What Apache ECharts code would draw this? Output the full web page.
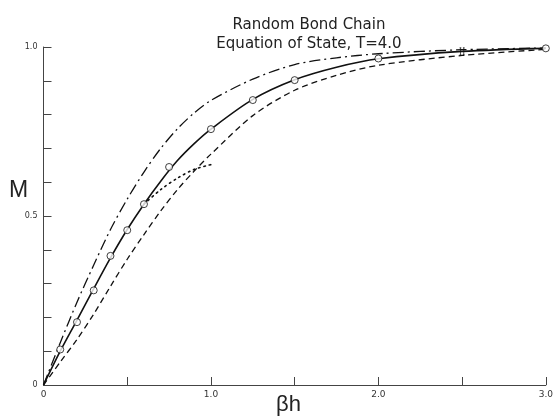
<!DOCTYPE html>
<html>
<head>
<meta charset="utf-8">
<script src="https://cdn.jsdelivr.net/npm/echarts@6/dist/echarts.min.js"></script>
<style>
html,body{margin:0;padding:0;background:#fff;}
#chart{width:556px;height:419px;}
</style>
</head>
<body>
<div id="chart"></div>
<script>
// Data
var curveX = [0, 0.1, 0.2, 0.3, 0.4, 0.5, 0.6, 0.7, 0.8, 0.9, 1.0, 1.25, 1.5, 1.75, 2.0, 2.5, 3.0];
var solidY   = [0, 0.100, 0.192, 0.285, 0.376, 0.46, 0.535, 0.603, 0.664, 0.714, 0.757, 0.845, 0.903, 0.940, 0.965, 0.987, 0.996];
var dashDotY = [0, 0.125, 0.245, 0.355, 0.46, 0.55, 0.63, 0.70, 0.758, 0.805, 0.842, 0.905, 0.948, 0.968, 0.980, 0.992, 0.997];
var dashedY  = [0, 0.068, 0.135, 0.21, 0.292, 0.372, 0.445, 0.515, 0.578, 0.633, 0.683, 0.797, 0.872, 0.916, 0.946, 0.975, 0.993];

var dottedX = [0.6, 0.7, 0.8, 0.9, 1.0];
var dottedY = [0.535, 0.578, 0.612, 0.638, 0.652];

var circleX = [0.1, 0.2, 0.3, 0.4, 0.5, 0.6, 0.75, 1.0, 1.25, 1.5, 2.0, 3.0];
var circleY = [0.105, 0.186, 0.28, 0.382, 0.458, 0.535, 0.645, 0.757, 0.843, 0.902, 0.966, 0.996];

var errX = [2.5];
var errY = [0.987];

var xTickLabels = {0: '0', 1: '1.0', 2: '2.0', 3: '3.0'};
var yTickLabels = {0: '0', 5: '0.5', 10: '1.0'};

function pairs(xs, ys) { return xs.map(function (x, i) { return [x, ys[i]]; }); }

var chart = echarts.init(document.getElementById('chart'), null, {renderer: 'canvas'});
var FONT = 'DejaVu Sans';
var SM = 0.3;
chart.setOption({
  animation: false,
  backgroundColor: '#fff',
  title: [{
    text: 'Random Bond Chain\nEquation of State, T=4.0',
    left: 304, top: 11, textAlign: 'center',
    textStyle: {fontFamily: FONT, fontSize: 15, fontWeight: 'normal', color: '#222', lineHeight: 19}
  }],
  graphic: [
    {type: 'text', left: 9, top: 179, style: {text: 'M', font: '23px Liberation Sans', fill: '#222'}},
    {type: 'text', left: 276, top: 394, style: {text: 'βh', font: '22px Liberation Sans', fill: '#222'}}
  ],
  grid: {left: 43.5, right: 9.3, top: 47, bottom: 34, containLabel: false},
  xAxis: {
    type: 'value', min: 0, max: 3, interval: 0.5,
    axisLine: {lineStyle: {color: '#444', width: 1}},
    axisTick: {inside: true, length: 8, lineStyle: {color: '#444'}},
    splitLine: {show: false},
    axisLabel: {
      margin: 5, fontFamily: FONT, fontSize: 9, color: '#333',
      formatter: function (v) { return xTickLabels[Math.round(v * 2) / 2] || ''; }
    }
  },
  yAxis: {
    type: 'value', min: 0, max: 1, interval: 0.1,
    axisLine: {show: true, lineStyle: {color: '#444', width: 1}},
    axisTick: {show: true, inside: true, length: 8, lineStyle: {color: '#444'}},
    splitLine: {show: false},
    axisLabel: {
      margin: 6, fontFamily: FONT, fontSize: 8, color: '#333',
      formatter: function (v) { return yTickLabels[Math.round(v * 10)] || ''; }
    }
  },
  series: [
    {
      type: 'line', data: pairs(curveX, dashDotY), smooth: SM,
      symbol: 'none', lineStyle: {color: '#111', width: 1.3, type: [11, 4, 2, 4]}
    },
    {
      type: 'line', data: pairs(curveX, dashedY), smooth: SM,
      symbol: 'none', lineStyle: {color: '#111', width: 1.3, type: [6, 4]}
    },
    {
      type: 'line', data: pairs(dottedX, dottedY), smooth: SM,
      symbol: 'none', lineStyle: {color: '#111', width: 1.6, type: [1.5, 4], cap: 'round'}
    },
    {
      type: 'line', data: pairs(curveX, solidY), smooth: SM,
      symbol: 'none', lineStyle: {color: '#111', width: 1.6}
    },
    {
      type: 'scatter', data: pairs(circleX, circleY), symbol: 'circle', symbolSize: 7,
      itemStyle: {color: '#fff', borderColor: '#111', borderWidth: 1}, z: 5
    },
    {
      type: 'scatter', data: pairs(errX, errY),
      symbol: 'path://M0,0 L0,10 M4,0 L4,10 M-1,0 L1,0 M3,0 L5,0 M-1,10 L1,10 M3,10 L5,10',
      symbolSize: [5, 7],
      itemStyle: {color: 'none', borderColor: '#111', borderWidth: 1}, z: 5
    }
  ]
});
</script>
</body>
</html>
